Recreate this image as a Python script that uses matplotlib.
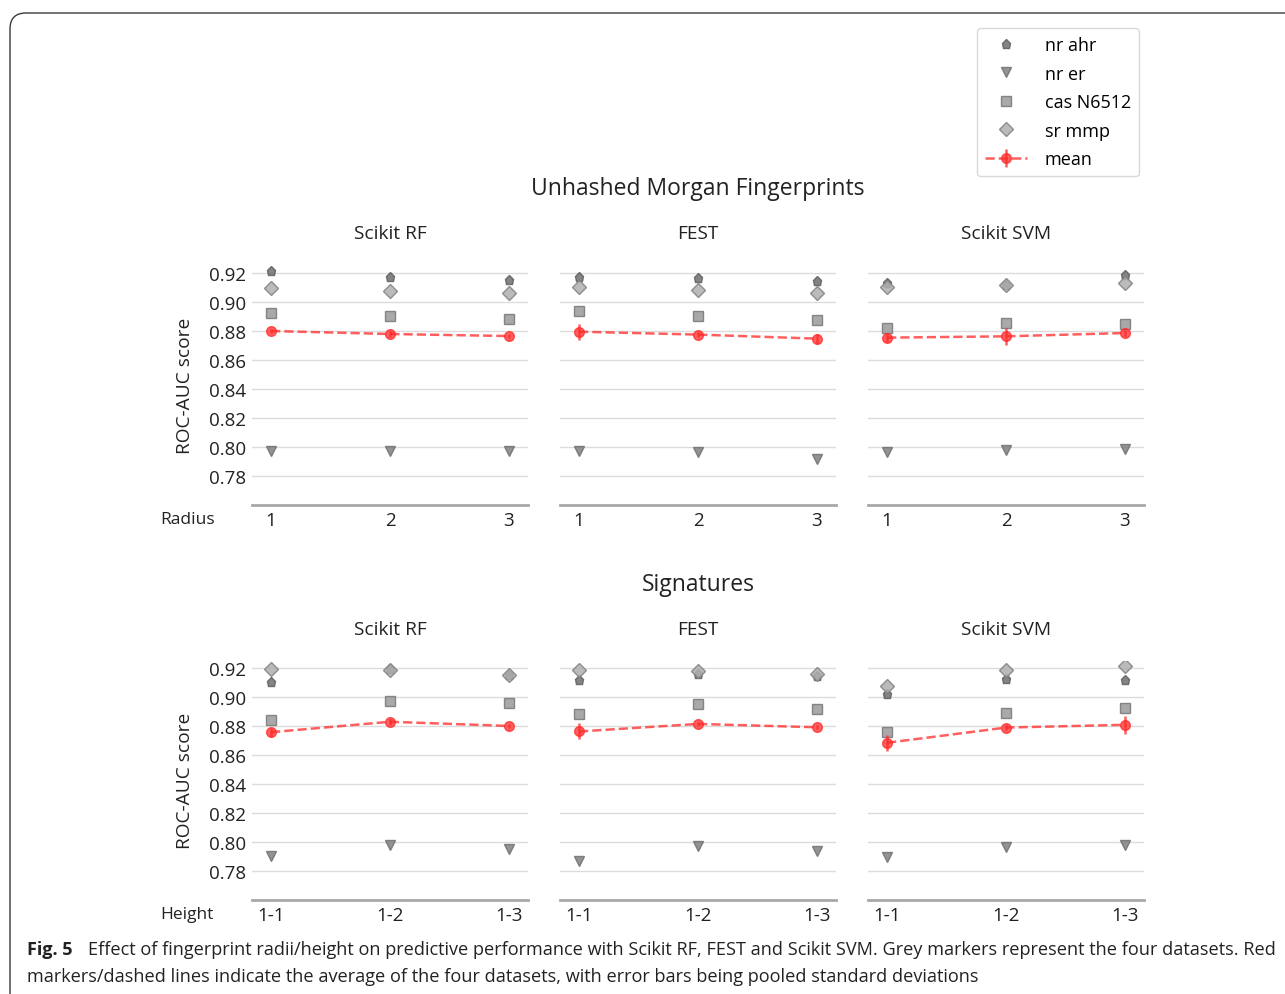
import matplotlib.pyplot as plt
from matplotlib.lines import Line2D
from matplotlib.patches import FancyBboxPatch
from matplotlib.transforms import IdentityTransform

# ─── Data ────────────────────────────────────────────
models = ["Scikit RF", "FEST", "Scikit SVM"]
radius_labels = ["1", "2", "3"]
height_labels = ["1-1", "1-2", "1-3"]
datasets = ["nr ahr", "nr er", "cas N6512", "sr mmp"]

# Unhashed Morgan fingerprints, one list per model (RF, FEST, SVM), radius 1..3
morgan_nr_ahr = [[0.9212, 0.9172, 0.9149], [0.9172, 0.9165, 0.9142], [0.9133, 0.9120, 0.9188]]
morgan_nr_er = [[0.7970, 0.7975, 0.7970], [0.7970, 0.7968, 0.7917], [0.7963, 0.7982, 0.7986]]
morgan_cas = [[0.8923, 0.8906, 0.8883], [0.8936, 0.8902, 0.8879], [0.8819, 0.8855, 0.8849]]
morgan_sr_mmp = [[0.9098, 0.9073, 0.9061], [0.9103, 0.9080, 0.9059], [0.9105, 0.9117, 0.9131]]
morgan_mean = [[0.8800, 0.8779, 0.8765], [0.8795, 0.8775, 0.8747], [0.8754, 0.8763, 0.8786]]
morgan_std = [[0.0015, 0.0020, 0.0015], [0.0055, 0.0020, 0.0035], [0.0030, 0.0060, 0.0020]]

# Signatures, height 1-1..1-3
sig_nr_ahr = [[0.9101, 0.9190, 0.9149], [0.9115, 0.9161, 0.9147], [0.9022, 0.9124, 0.9119]]
sig_nr_er = [[0.7900, 0.7976, 0.7950], [0.7866, 0.7970, 0.7937], [0.7897, 0.7962, 0.7982]]
sig_cas = [[0.8838, 0.8974, 0.8960], [0.8882, 0.8953, 0.8916], [0.8758, 0.8891, 0.8925]]
sig_sr_mmp = [[0.9193, 0.9184, 0.9149], [0.9188, 0.9180, 0.9161], [0.9073, 0.9184, 0.9212]]
sig_mean = [[0.8757, 0.8829, 0.8800], [0.8762, 0.8814, 0.8791], [0.8684, 0.8789, 0.8808]]
sig_std = [[0.0030, 0.0020, 0.0015], [0.0055, 0.0015, 0.0015], [0.0055, 0.0015, 0.0060]]

yticks = [0.78, 0.80, 0.82, 0.84, 0.86, 0.88, 0.90, 0.92]

# ─── Style ───────────────────────────────────────────
plt.rcParams["font.family"] = ["Open Sans", "DejaVu Sans"]
W, H = 1285, 995
TEXT = "#222222"

marker_style = {
    "nr ahr": dict(marker="p", ms=6.5, mfc="#6e6e6e", mec="#5e5e5e"),
    "nr er": dict(marker="v", ms=7.5, mfc="#808080", mec="#707070"),
    "cas N6512": dict(marker="s", ms=7.0, mfc="#9a9a9a", mec="#777777"),
    "sr mmp": dict(marker="D", ms=7.0, mfc="#b0b0b0", mec="#808080"),
}
RED = "#ff2a2a"

fig = plt.figure(figsize=(W / 100, H / 100), dpi=100)

# rounded frame, running off the right and bottom edges
frame = FancyBboxPatch((10, -20), 1310, H - 14 + 20,
                       boxstyle="round,pad=0,rounding_size=16",
                       transform=IdentityTransform(), fill=False,
                       edgecolor="#3a3a3a", lw=1.0)
fig.patches.append(frame)

ax_lefts = [252, 560, 868]
ax_width = 276
row_bottoms = [506, 901]   # pixel y (from top) of axis bottom
ax_height = 239.3

rows = [
    ("Unhashed Morgan Fingerprints", 189, "Radius", radius_labels,
     [morgan_nr_ahr, morgan_nr_er, morgan_cas, morgan_sr_mmp], morgan_mean, morgan_std),
    ("Signatures", 585, "Height", height_labels,
     [sig_nr_ahr, sig_nr_er, sig_cas, sig_sr_mmp], sig_mean, sig_std),
]

for r, (row_title, title_y, xname, xlabels, series, means, stds) in enumerate(rows):
    bottom_px = row_bottoms[r]
    fig.text(698 / W, 1 - title_y / H, row_title, ha="center", va="center",
             fontsize=16.5, color=TEXT)
    for m, model in enumerate(models):
        ax = fig.add_axes([ax_lefts[m] / W, 1 - bottom_px / H, ax_width / W, ax_height / H])
        x = list(range(1, len(xlabels) + 1))
        for name, vals in zip(datasets, series):
            st = marker_style[name]
            ax.plot(x, vals[m], ls="none", alpha=0.85, zorder=3, **st)
        ax.errorbar(x, means[m], yerr=stds[m], color=RED, ls="--", lw=1.8,
                    marker="o", ms=7, alpha=0.75, elinewidth=1.8, capsize=0, zorder=4)
        ax.set_xlim(0.84, 3.16)
        ax.set_ylim(0.76, 0.925)
        ax.set_xticks(x)
        ax.set_xticklabels(xlabels)
        ax.set_yticks(yticks)
        ax.grid(axis="y", color="#dcdcdc", lw=1.0)
        ax.set_axisbelow(True)
        for s in ["left", "right", "top"]:
            ax.spines[s].set_visible(False)
        ax.spines["bottom"].set_color("#a8a8a8")
        ax.spines["bottom"].set_linewidth(2.0)
        ax.tick_params(axis="both", length=0, labelsize=13.5, colors=TEXT)
        ax.tick_params(axis="x", pad=4)
        ax.tick_params(axis="y", pad=4)
        if m == 0:
            ax.set_yticklabels([f"{v:.2f}" for v in yticks])
            ax.set_ylabel("ROC-AUC score", fontsize=13.8, color=TEXT, labelpad=11)
        else:
            ax.set_yticklabels([])
        fig.text((ax_lefts[m] + ax_width / 2) / W, 1 - (title_y + 45) / H, model,
                 ha="center", va="center", fontsize=13.8, color=TEXT)
    fig.text(160 / W, 1 - (bottom_px + 14) / H, xname, ha="left", va="center",
             fontsize=12.5, color=TEXT)

# ─── Legend ──────────────────────────────────────────
handles = [Line2D([], [], ls="none", alpha=0.85, **marker_style[d]) for d in datasets]
mean_h = plt.errorbar([], [], yerr=[], color=RED, ls="--", lw=1.8, marker="o", ms=7,
                      alpha=0.75, elinewidth=1.8)
handles.append(mean_h)
fig.legend(handles, datasets + ["mean"], loc="upper right",
           bbox_to_anchor=(1139 / W, 1 - 29 / H), fontsize=13, frameon=True,
           fancybox=True, edgecolor="#d0d0d0", handlelength=2.3, labelspacing=0.58,
           handletextpad=1.0, borderpad=0.45, borderaxespad=0)

# ─── Caption ─────────────────────────────────────────
cap_font = ["Liberation Sans Narrow", "Open Sans", "DejaVu Sans"]
fig.text(27 / W, 1 - 950 / H, "Fig. 5", fontweight="bold", fontsize=13,
         family=cap_font, va="center", ha="left", color=TEXT)
fig.text(88 / W, 1 - 950 / H,
         "Effect of fingerprint radii/height on predictive performance with Scikit RF, "
         "FEST and Scikit SVM. Grey markers represent the four datasets. Red",
         fontsize=13.1, family=cap_font, va="center", ha="left", color=TEXT)
fig.text(27 / W, 1 - 977 / H,
         "markers/dashed lines indicate the average of the four datasets, "
         "with error bars being pooled standard deviations",
         fontsize=13.1, family=cap_font, va="center", ha="left", color=TEXT)

fig.savefig("out.png", dpi=100)
